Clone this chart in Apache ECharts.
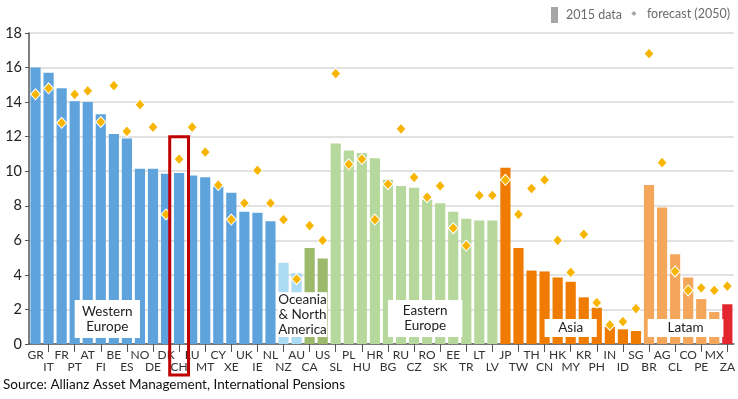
<!DOCTYPE html>
<html>
<head>
<meta charset="utf-8">
<script src="https://cdn.jsdelivr.net/npm/echarts@6/dist/echarts.min.js"></script>
<style>
  html, body { margin: 0; padding: 0; background: #fff; }
  #chart { width: 738px; height: 399px; }
</style>
</head>
<body>
<div id="chart"></div>
<script>
// country codes, left to right
const countries = ['GR','IT','FR','PT','AT','FI','BE','ES','NO','DE','DK','CH','LU','MT','CY','XE','UK','IE','NL',
  'NZ','AU','CA','US',
  'SL','PL','HU','HR','BG','RU','CZ','RO','SK','EE','TR','LT','LV',
  'JP','TW','TH','CN','HK','MY','KR','PH','IN','ID','SG',
  'BR','AG','CL','CO','PE','MX',
  'ZA'];

// 2015 values (bars)
const data2015 = [16.0,15.7,14.8,14.05,14.0,13.3,12.15,11.9,10.15,10.15,9.85,9.9,9.75,9.65,9.1,8.75,7.65,7.6,7.1,
  4.7,4.1,5.55,4.95,
  11.6,11.2,11.05,10.75,9.5,9.15,9.05,8.35,8.15,7.65,7.25,7.15,7.15,
  10.2,5.55,4.25,4.2,3.85,3.6,2.7,2.1,1.0,0.85,0.75,
  9.2,7.9,5.2,3.85,2.6,1.85,
  2.3];

// forecast 2050 (diamonds)
const data2050 = [14.45,14.8,12.8,14.45,14.65,12.85,14.95,12.3,13.85,12.55,7.5,10.7,12.55,11.1,9.2,7.2,8.15,10.05,8.15,
  7.2,3.75,6.85,6.0,
  15.65,10.4,10.7,7.2,9.25,12.45,9.65,8.5,9.15,6.7,5.7,8.6,8.6,
  9.5,7.5,9.0,9.5,6.0,4.15,6.35,2.4,1.1,1.3,2.05,
  16.8,10.5,4.2,3.1,3.25,3.1,
  3.35];

// how many countries each region holds, in order
const regions = ['Western Europe','Oceania','North America','Eastern Europe','Asia','Latam','Africa'];
const regionSizes = [19, 2, 2, 13, 11, 6, 1];

const regionColor = {
  'Western Europe': '#5fa3dc',
  'Oceania': '#abdaf3',
  'North America': '#9cb96c',
  'Eastern Europe': '#b7d89c',
  'Asia': '#ef7b00',
  'Latam': '#f4a75b',
  'Africa': '#e3262e'
};

const barColors = [];
regions.forEach(function (r, k) {
  for (let j = 0; j < regionSizes[k]; j++) barColors.push(regionColor[r]);
});

const FONT = 'Lato, "Noto Sans", sans-serif';

const chart = echarts.init(document.getElementById('chart'), null, { renderer: 'canvas' });

const option = {
  animation: false,
  textStyle: { fontFamily: FONT },
  title: {
    text: 'Source: Allianz Asset Management, International Pensions',
    left: 3,
    top: 378,
    padding: 0,
    textStyle: { fontSize: 13.5, fontWeight: 'normal', color: '#111', fontFamily: FONT }
  },
  legend: [
    {
      data: [{ name: '2015 data', itemStyle: { color: '#a6a6a6' } }],
      right: 111, top: 2,
      icon: 'rect', itemWidth: 7, itemHeight: 16,
      textStyle: { fontSize: 12.5, color: '#6b6b6b', fontFamily: FONT, padding: [0, 0, 0, 3] }
    },
    {
      data: [{ name: 'forecast (2050)', itemStyle: { color: '#a6a6a6' } }],
      right: 3, top: 2,
      icon: 'diamond', itemWidth: 8, itemHeight: 8,
      textStyle: { fontSize: 12.5, color: '#6b6b6b', fontFamily: FONT, padding: [0, 0, 0, 4] }
    }
  ],
  grid: { left: 29, right: 4, top: 33, bottom: 55, containLabel: false },
  xAxis: {
    type: 'category',
    data: countries,
    axisLine: { lineStyle: { color: '#555', width: 1.5 } },
    axisTick: {
      show: true,
      alignWithLabel: true,
      length: 8,
      interval: function (i) { return i % 2 === 1; },
      lineStyle: { color: '#555', width: 1 }
    },
    axisLabel: {
      interval: 0,
      margin: 5,
      fontSize: 12,
      lineHeight: 12,
      color: '#333',
      formatter: function (v, i) { return i % 2 ? '\n' + v : v; }
    }
  },
  yAxis: {
    type: 'value',
    min: 0, max: 18, interval: 2,
    axisLine: { show: true, lineStyle: { color: '#555', width: 1.5 } },
    axisTick: { show: true, length: 4, lineStyle: { color: '#555' } },
    axisLabel: { fontSize: 14.5, color: '#222', margin: 7 },
    splitLine: { lineStyle: { color: '#d9d9d9', width: 1.5 } }
  },
  series: [
    {
      name: '2015 data',
      type: 'bar',
      barCategoryGap: '22%',
      itemStyle: { color: '#a6a6a6' },
      data: data2015.map(function (v, i) {
        return { value: v, itemStyle: { color: barColors[i] } };
      }),
      z: 2
    },
    {
      name: 'forecast (2050)',
      type: 'scatter',
      symbol: 'diamond',
      symbolSize: [10, 11],
      itemStyle: { color: '#f7b500', borderColor: '#fff', borderWidth: 1, opacity: 1 },
      data: data2050,
      z: 3
    }
  ]
};

chart.setOption(option);

// annotation boxes placed through the axes
function px(i, v) {
  return chart.convertToPixel({ xAxisIndex: 0, yAxisIndex: 0 }, [i, v]);
}
const band = px(1, 0)[0] - px(0, 0)[0];

const boxes = [
  { text: 'Western\nEurope', from: 3, fromOff: 0, to: 8, toOff: 0, top: 2.55, bottom: 0.35 },
  { text: 'Oceania\n& North\nAmerica', from: 19, fromOff: -0.45, to: 22, toOff: 0.35, top: 3.0, bottom: 0.4 },
  { text: 'Eastern\nEurope', from: 27, fromOff: 0, to: 32, toOff: 0.7, top: 2.55, bottom: 0.4 },
  { text: 'Asia', from: 39, fromOff: 0, to: 43, toOff: 0, top: 1.45, bottom: 0.4 },
  { text: 'Latam', from: 47, fromOff: -0.1, to: 52, toOff: 0.7, top: 1.45, bottom: 0.4 }
];

const graphics = [];
boxes.forEach(function (b) {
  const x0 = px(b.from, 0)[0] + b.fromOff * band;
  const x1 = px(b.to, 0)[0] + b.toOff * band;
  const y0 = px(0, b.top)[1];
  const y1 = px(0, b.bottom)[1];
  graphics.push({
    type: 'rect', z: 100,
    shape: { x: x0, y: y0, width: x1 - x0, height: y1 - y0 },
    style: { fill: '#fff' }
  });
  graphics.push({
    type: 'text', z: 101,
    x: (x0 + x1) / 2, y: (y0 + y1) / 2,
    style: {
      text: b.text, fill: '#222', fontSize: 13.5, fontFamily: FONT,
      align: 'center', verticalAlign: 'middle', lineHeight: 15
    }
  });
});

// red frame around Switzerland
const chIdx = countries.indexOf('CH');
const chX0 = px(chIdx, 0)[0] - 0.72 * band;
const chX1 = px(chIdx, 0)[0] + 0.72 * band;
const chTop = px(chIdx, 12)[1];
const chBottom = px(chIdx, 0)[1] + 31;
graphics.push({
  type: 'rect', z: 102,
  shape: { x: chX0, y: chTop, width: chX1 - chX0, height: chBottom - chTop },
  style: { fill: 'none', stroke: '#c00000', lineWidth: 3 }
});

chart.setOption({ graphic: graphics });
</script>
</body>
</html>
